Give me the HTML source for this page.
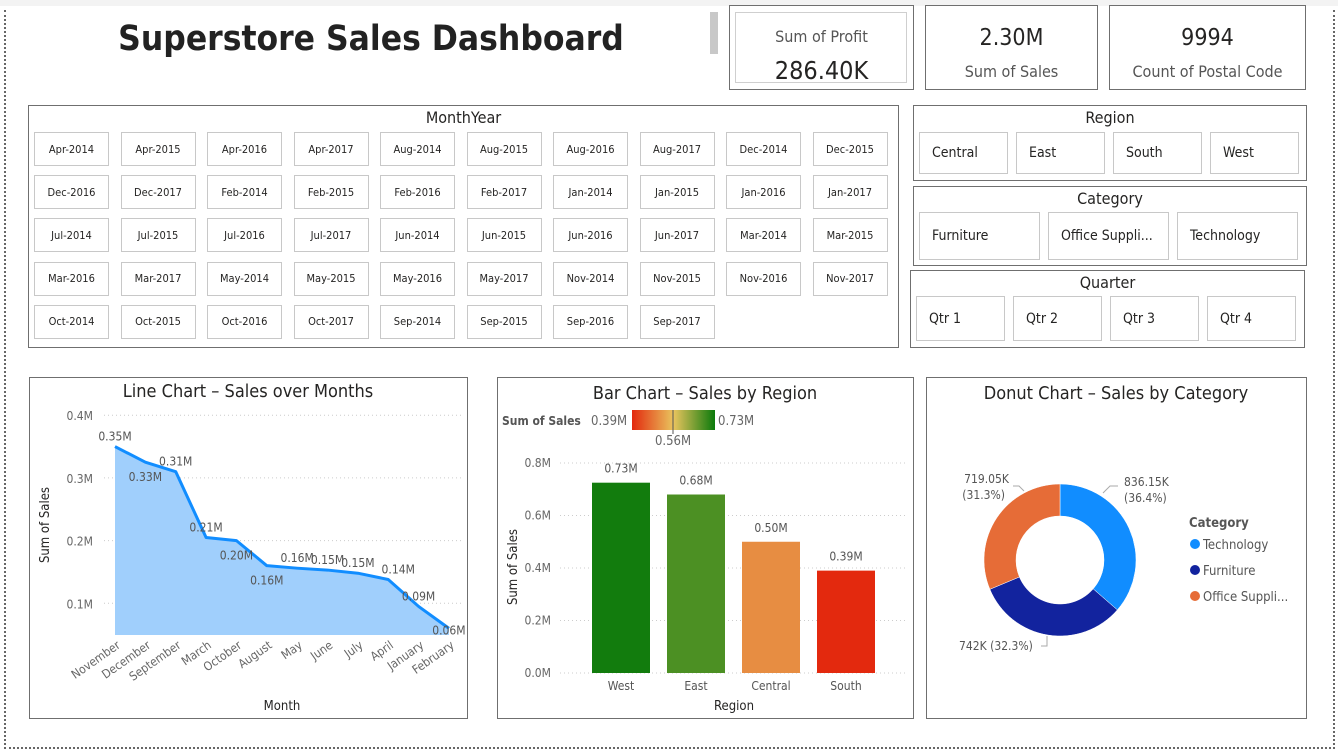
<!DOCTYPE html>
<html><head><meta charset="utf-8">
<style>
*{box-sizing:border-box;margin:0;padding:0}
body{width:1338px;height:754px;background:#fff;position:relative;overflow:hidden;font-family:"DejaVu Sans Condensed","Liberation Sans",sans-serif;color:#252423}
.abs{position:absolute}
.box{position:absolute;border:1px solid #6f6f6f;background:#fff}
.btn{position:absolute;border:1px solid #c8c8c8;background:#fff;font-size:11px;display:flex;align-items:center;justify-content:center;color:#252423}
.btn2{position:absolute;border:1px solid #c8c8c8;background:#fff;font-size:14px;display:flex;align-items:center;padding-left:12px;color:#252423}
.stitle{position:absolute;left:0;right:0;text-align:center;font-size:16px}
svg text{font-family:"DejaVu Sans Condensed","Liberation Sans",sans-serif}
</style></head><body>
<div class="abs" style="left:0;top:0;width:1338px;height:6px;background:#f3f3f3"></div>
<div class="abs" style="left:4px;top:10px;width:1331px;height:739px;border:2px dotted #666;border-top:none"></div>
<div class="abs" style="left:60px;top:19px;width:622px;text-align:center;font-size:35px;font-weight:bold;color:#222;white-space:nowrap;font-family:'DejaVu Sans Condensed','Liberation Sans',sans-serif">Superstore Sales Dashboard</div>
<div class="abs" style="left:710px;top:12px;width:8px;height:42px;background:#c8c8c8"></div>

<div class="box" style="left:729px;top:5px;width:185px;height:85px">
 <div class="abs" style="left:5px;top:6px;width:172px;height:71px;border:1px solid #cfcfcf"></div>
 <div class="abs" style="left:0;right:0;top:21px;text-align:center;font-size:16px;color:#555">Sum of Profit</div>
 <div class="abs" style="left:0;right:0;top:50px;text-align:center;font-size:25px;color:#252423">286.40K</div>
</div>
<div class="box" style="left:925px;top:5px;width:173px;height:85px">
 <div class="abs" style="left:0;right:0;top:19px;text-align:center;font-size:23px">2.30M</div>
 <div class="abs" style="left:0;right:0;top:56px;text-align:center;font-size:16px;color:#555">Sum of Sales</div>
</div>
<div class="box" style="left:1109px;top:5px;width:197px;height:85px">
 <div class="abs" style="left:0;right:0;top:19px;text-align:center;font-size:23px">9994</div>
 <div class="abs" style="left:0;right:0;top:56px;text-align:center;font-size:16px;color:#555">Count of Postal Code</div>
</div>

<div class="box" id="my" style="left:28px;top:105px;width:871px;height:243px">
 <div class="stitle" style="top:2px">MonthYear</div>
</div>
<div class="box" id="reg" style="left:913px;top:105px;width:394px;height:76px">
 <div class="stitle" style="top:2px">Region</div>
</div>
<div class="box" id="cat" style="left:913px;top:186px;width:394px;height:80px">
 <div class="stitle" style="top:2px">Category</div>
</div>
<div class="box" id="qtr" style="left:910px;top:270px;width:395px;height:78px">
 <div class="stitle" style="top:2px">Quarter</div>
</div>

<div class="box" style="left:29px;top:377px;width:439px;height:342px"></div>
<div class="box" style="left:497px;top:377px;width:417px;height:342px"></div>
<div class="box" style="left:926px;top:377px;width:381px;height:342px"></div>

<svg id="svg" class="abs" style="left:0;top:0" width="1338" height="754"></svg>

<script>
// slicer data
const monthYears=["Apr-2014","Apr-2015","Apr-2016","Apr-2017","Aug-2014","Aug-2015","Aug-2016","Aug-2017","Dec-2014","Dec-2015","Dec-2016","Dec-2017","Feb-2014","Feb-2015","Feb-2016","Feb-2017","Jan-2014","Jan-2015","Jan-2016","Jan-2017","Jul-2014","Jul-2015","Jul-2016","Jul-2017","Jun-2014","Jun-2015","Jun-2016","Jun-2017","Mar-2014","Mar-2015","Mar-2016","Mar-2017","May-2014","May-2015","May-2016","May-2017","Nov-2014","Nov-2015","Nov-2016","Nov-2017","Oct-2014","Oct-2015","Oct-2016","Oct-2017","Sep-2014","Sep-2015","Sep-2016","Sep-2017"];
const regionsS=["Central","East","South","West"];
const categoriesS=["Furniture","Office Suppli...","Technology"];
const quartersS=["Qtr 1","Qtr 2","Qtr 3","Qtr 4"];

// line chart data
const months=["November","December","September","March","October","August","May","June","July","April","January","February"];
const monthSales=[0.35,0.325,0.31,0.205,0.20,0.16,0.156,0.153,0.148,0.138,0.095,0.06];
const monthLabels=["0.35M","0.33M","0.31M","0.21M","0.20M","0.16M","0.16M","0.15M","0.15M","0.14M","0.09M","0.06M"];
const lineTicks=[0.1,0.2,0.3,0.4];
const lineTickLabels=["0.1M","0.2M","0.3M","0.4M"];

// bar chart data
const regions=["West","East","Central","South"];
const regionSales=[0.725,0.68,0.50,0.39];
const regionLabels=["0.73M","0.68M","0.50M","0.39M"];
const barTicks=[0,0.2,0.4,0.6,0.8];
const barTickLabels=["0.0M","0.2M","0.4M","0.6M","0.8M"];

// donut data
const cats=["Technology","Furniture","Office Supplies"];
const catSales=[836.15,742,719.05];
const catLabels=["836.15K (36.4%)","742K (32.3%)","719.05K (31.3%)"];

function mk(parent,html,cls,l,t,w,h){const d=document.createElement('div');d.className=cls;d.style.left=l+'px';d.style.top=t+'px';d.style.width=w+'px';d.style.height=h+'px';d.textContent=html;parent.appendChild(d);return d;}
const my=document.getElementById('my');
monthYears.forEach((m,i)=>{const c=i%10,r=Math.floor(i/10);
 const b=mk(my,m,'btn',5+c*86.5,26+r*43.2,75,34);
 
 });
const reg=document.getElementById('reg');
regionsS.forEach((m,i)=>{const b=mk(reg,m,'btn2',5+i*97,26,89,42);
 
 });
const cat=document.getElementById('cat');
categoriesS.forEach((m,i)=>{const b=mk(cat,m,'btn2',5+i*129,25,121,48);
 
 });
const qtr=document.getElementById('qtr');
quartersS.forEach((m,i)=>{const b=mk(qtr,m,'btn2',5+i*97,25,89,45);
 
 });

const svg=document.getElementById('svg');
const NS='http://www.w3.org/2000/svg';
function el(tag,attrs,txt){const e=document.createElementNS(NS,tag);for(const k in attrs)e.setAttribute(k,attrs[k]);if(txt!=null)e.textContent=txt;svg.appendChild(e);return e;}

// titles
let t;
t=el('text',{x:248,y:397,'font-size':18,'text-anchor':'middle',fill:'#252423'},'Line Chart – Sales over Months');


t=el('text',{x:705,y:399,'font-size':18,'text-anchor':'middle',fill:'#252423'},'Bar Chart – Sales by Region');


t=el('text',{x:1116,y:399,'font-size':18,'text-anchor':'middle',fill:'#252423'},'Donut Chart – Sales by Category');



// ---- line chart
const ly=v=>666-v*627;
const lx=i=>115+i*30.36;
lineTicks.forEach((v,i)=>{
 const g=el('line',{x1:104,x2:462,y1:ly(v),y2:ly(v),stroke:'#ccc','stroke-dasharray':'1 3'});
 
 
 const tl=el('text',{x:93,y:ly(v)+5,'font-size':12,'text-anchor':'end',fill:'#666'},lineTickLabels[i]);
 
 
});
const base=635;
let pts=monthSales.map((v,i)=>lx(i)+','+ly(v)).join(' ');
const area=el('polygon',{points:lx(0)+','+base+' '+pts+' '+lx(months.length-1)+','+base,fill:'#a0cffc'});


const pl=el('polyline',{points:pts,fill:'none',stroke:'#118dff','stroke-width':3,'stroke-linejoin':'round'});


const lblOff=[-10,15,-10,-10,15,15,-10,-10,-10,-10,-10,2];
const lblDx=[0,0,0,0,0,0,0,0,0,10,0,0];
monthSales.forEach((v,i)=>{
 const dl=el('text',{x:lx(i)+lblDx[i],y:ly(v)+lblOff[i]+4,'font-size':12,'text-anchor':'middle',fill:'#555'},monthLabels[i]);
 
 
 const xl=el('text',{x:lx(i)+6,y:647,'font-size':12,'text-anchor':'end',fill:'#666',transform:'rotate(-35 '+(lx(i)+6)+' 647)'},months[i]);
 
 
});
t=el('text',{x:282,y:710,'font-size':13,'text-anchor':'middle',fill:'#252423'},'Month');


t=el('text',{x:49,y:525,'font-size':13,'text-anchor':'middle',fill:'#252423',transform:'rotate(-90 49 525)'},'Sum of Sales');



// ---- bar chart
const by=v=>673-v*262.5;
const bx=i=>592+i*75;
const defs=el('defs',{});
defs.innerHTML='<linearGradient id="gr" x1="0" x2="1"><stop offset="0" stop-color="#e3290e"/><stop offset="0.5" stop-color="#e9c45e"/><stop offset="1" stop-color="#0b7a0b"/></linearGradient>';
t=el('text',{x:502,y:425,'font-size':12,'font-weight':'bold',fill:'#555'},'Sum of Sales');


t=el('text',{x:591,y:425,'font-size':13,fill:'#666'},'0.39M');


const gr=el('rect',{x:632,y:410,width:83,height:20,fill:'url(#gr)'});


el('line',{x1:673,x2:673,y1:410,y2:434,stroke:'#555'});
t=el('text',{x:718,y:425,'font-size':13,fill:'#666'},'0.73M');


t=el('text',{x:673,y:445,'font-size':13,'text-anchor':'middle',fill:'#666'},'0.56M');


barTicks.forEach((v,i)=>{
 const g=el('line',{x1:560,x2:905,y1:by(v),y2:by(v),stroke:'#ccc','stroke-dasharray':'1 3'});
 
 
 const tl=el('text',{x:551,y:by(v)+4,'font-size':12,'text-anchor':'end',fill:'#666'},barTickLabels[i]);
 
 
});
function col(v){const mn=0.39,mx=0.73,mid=0.56;
 const lerp=(a,b,f)=>a.map((x,k)=>Math.round(x+(b[k]-x)*f));
 const r=[227,41,14],y=[233,196,94],g=[11,122,11];
 const c=v<mid?lerp(r,y,(v-mn)/(mid-mn)):lerp(y,g,(v-mid)/(mx-mid));return 'rgb('+c.join(',')+')';}
regionSales.forEach((v,i)=>{
 const b=el('rect',{x:bx(i),y:by(v),width:58,height:by(0)-by(v),fill:col(Math.min(Math.max(v,0.39),0.73))});
 
 
 const dl=el('text',{x:bx(i)+29,y:by(v)-10,'font-size':12,'text-anchor':'middle',fill:'#555'},regionLabels[i]);
 
 
 const xl=el('text',{x:bx(i)+29,y:690,'font-size':12,'text-anchor':'middle',fill:'#555'},regions[i]);
 
 
});
t=el('text',{x:734,y:710,'font-size':13,'text-anchor':'middle',fill:'#252423'},'Region');


t=el('text',{x:517,y:567,'font-size':13,'text-anchor':'middle',fill:'#252423',transform:'rotate(-90 517 567)'},'Sum of Sales');



// ---- donut
const cx=1060,cy=560,R=76,r0=44;
const colors=['#118dff','#12239e','#e66c37'];
const tot=catSales.reduce((a,b)=>a+b,0);
let a0=-Math.PI/2;
catSales.forEach((v,i)=>{
 const a1=a0+v/tot*2*Math.PI;const lg=(a1-a0)>Math.PI?1:0;
 const p=(rr,a)=>(cx+rr*Math.cos(a)).toFixed(2)+','+(cy+rr*Math.sin(a)).toFixed(2);
 const s=el('path',{d:'M'+p(R,a0)+' A'+R+','+R+' 0 '+lg+' 1 '+p(R,a1)+' L'+p(r0,a1)+' A'+r0+','+r0+' 0 '+lg+' 0 '+p(r0,a0)+'Z',fill:colors[i],stroke:'#fff','stroke-width':0.5});
 
 
 a0=a1;
});
// donut labels
el('polyline',{points:'1103,493 1110,486 1118,486',fill:'none',stroke:'#aaa'});
t=el('text',{x:1124,y:486,'font-size':12,fill:'#555'},'836.15K');


el('text',{x:1124,y:502,'font-size':12,fill:'#555'},'(36.4%)');
el('polyline',{points:'1024,491 1019,486 1013,486',fill:'none',stroke:'#aaa'});
t=el('text',{x:1009,y:483,'font-size':12,'text-anchor':'end',fill:'#555'},'719.05K');


el('text',{x:1005,y:499,'font-size':12,'text-anchor':'end',fill:'#555'},'(31.3%)');
el('polyline',{points:'1047,636 1047,646 1041,646',fill:'none',stroke:'#aaa'});
t=el('text',{x:959,y:650,'font-size':12,fill:'#555'},'742K (32.3%)');


t=el('text',{x:1189,y:527,'font-size':13,'font-weight':'bold',fill:'#555'},'Category');


const legNames=["Technology","Furniture","Office Suppli..."];
legNames.forEach((n,i)=>{
 const c=el('circle',{cx:1195,cy:544+i*26,r:5,fill:colors[i]});
 
 
 const tx=el('text',{x:1203,y:549+i*26,'font-size':13,fill:'#555'},n);
 
 
});
</script>
</body></html>
